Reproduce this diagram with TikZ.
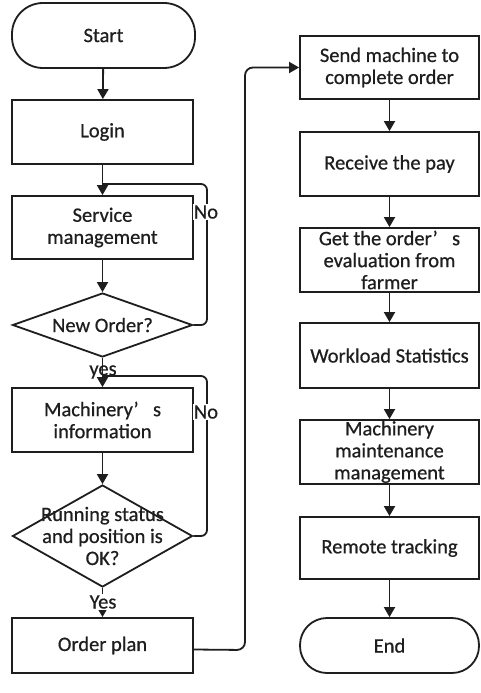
\documentclass[tikz,border=0pt]{standalone}
\usepackage{fontspec}
\setmainfont{Carlito}[FakeBold=0.6]
\usetikzlibrary{arrows.meta,shapes.geometric}
\definecolor{ink}{RGB}{30,30,30}
\begin{document}
\begin{tikzpicture}[x=1pt,y=-1pt,
  every node/.style={font=\fontsize{20.5}{22}\selectfont, text=ink},
  box/.style={draw=ink, line width=1.8pt, rectangle, inner sep=0pt, align=center},
  term/.style={draw=ink, line width=1.8pt, rectangle, rounded corners=27pt, inner sep=0pt},
  dia/.style={draw=ink, line width=1.8pt, diamond, inner sep=0pt},
  conn/.style={draw=ink, line width=1.8pt, -{Triangle[width=11pt,length=10pt]}},
  loop/.style={draw=ink, line width=1.8pt, rounded corners=6pt},
  lbl/.style={fill=white, inner sep=1pt}]
\useasboundingbox (0,0) rectangle (480,693);
\fill[white] (0,0) rectangle (480,693);
% left column
\node[term, minimum width=183pt, minimum height=65pt, rounded corners=31pt] (st) at (103.5,35.5) {Start};
\node[box, minimum width=181pt, minimum height=64pt] (lg) at (102.5,132) {Login};
\node[box, minimum width=181pt, minimum height=63pt] (sv) at (102.5,227.5) {Service\\management};
\node[dia, minimum width=180pt, minimum height=64pt] (d1) at (102.5,325) {};
\node at (d1) {New Order?};
\node[box, minimum width=181pt, minimum height=64pt] (mi) at (102.5,420) {Machinery’\hspace{0.7em}s\\information};
\node[dia, minimum width=180pt, minimum height=102pt] (d2) at (102.5,536) {};
\node[align=center] at (d2) {Running status\\and position is\\OK?};
\node[box, minimum width=181pt, minimum height=55pt] (op) at (102.5,645.5) {Order plan};
% right column
\node[box, minimum width=179pt, minimum height=63pt] (sm) at (389.5,67.5) {Send machine to\\complete order};
\node[box, minimum width=179pt, minimum height=64pt] (rp) at (389.5,164) {Receive the pay};
\node[box, minimum width=179pt, minimum height=64pt] (ev) at (389.5,260) {Get the order’\hspace{0.7em}s\\evaluation from\\farmer};
\node[box, minimum width=179pt, minimum height=65pt] (ws) at (389.5,355.5) {Workload Statistics};
\node[box, minimum width=179pt, minimum height=64pt] (mm) at (389.5,452) {Machinery\\maintenance\\management};
\node[box, minimum width=179pt, minimum height=62pt] (rt) at (389.5,548) {Remote tracking};
\node[term, minimum width=179pt, minimum height=55pt] (en) at (389.5,645.5) {End};
% junctions
\coordinate (j1) at (102.5,184);
\coordinate (j2) at (102.5,376);
% connectors
\draw[conn] (st) -- (lg);
\draw[conn] (lg) -- (sv);
\draw[conn] (sv) -- (d1.north);
\draw[conn] (d1.south) -- (mi);
\draw[conn] (mi) -- (d2.north);
\draw[conn] (d2.south) -- (op);
\draw[loop] (d1.east) -- (207,325) -- (207,184) [sharp corners] -- (j1);
\draw[loop] (d2.east) -- (207,536) -- (207,376) [sharp corners] -- (j2);
\draw[conn, rounded corners=8pt] ([yshift=-4pt]op.east) -- (245,650) -- (245,67.5) -- (sm.west);
\draw[conn] (sm) -- (rp);
\draw[conn] (rp) -- (ev);
\draw[conn] (ev) -- (ws);
\draw[conn] (ws) -- (mm);
\draw[conn] (mm) -- (rt);
\draw[conn] (rt) -- (en);
% labels
\node[lbl] at (206,212) {No};
\node[lbl] at (206,412) {No};
\node[inner sep=0pt] at (103,372) {yes};
\node[lbl] at (103,602) {Yes};
\end{tikzpicture}
\end{document}
